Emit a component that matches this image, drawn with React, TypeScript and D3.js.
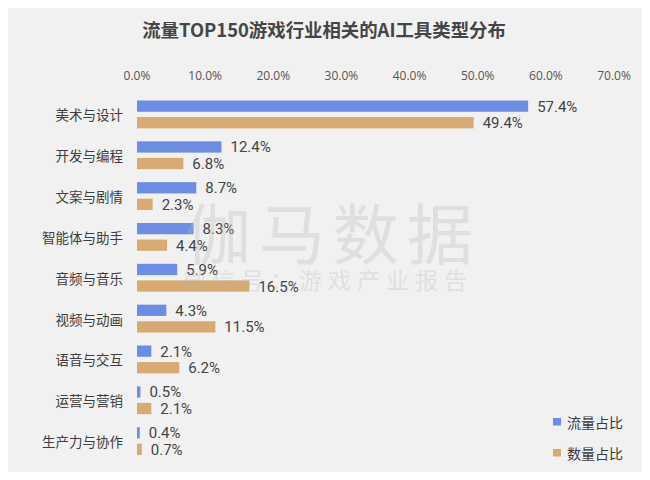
import React, { useRef, useEffect } from "react";
import * as d3 from "d3";

const WIDTH = 650;
const HEIGHT = 480;

const categories = ["美术与设计", "开发与编程", "文案与剧情", "智能体与助手", "音频与音乐", "视频与动画", "语音与交互", "运营与营销", "生产力与协作"];
const trafficShare = [57.4, 12.4, 8.7, 8.3, 5.9, 4.3, 2.1, 0.5, 0.4];
const countShare = [49.4, 6.8, 2.3, 4.4, 16.5, 11.5, 6.2, 2.1, 0.7];
const seriesNames = ["流量占比", "数量占比"];
const seriesColors = ["#6d8de5", "#d6aa72"];
const xTicks = [0, 10, 20, 30, 40, 50, 60, 70];

const CJK = "'Noto Sans CJK SC', 'Noto Sans', sans-serif";
const NUM = "Roboto, 'Noto Sans', sans-serif";

const App: React.FC = () => {
  const svgRef = useRef<SVGSVGElement | null>(null);

  const drawChart = () => {
    if (!svgRef.current) return;
    d3.select(svgRef.current).selectAll("*").remove();

    const svg = d3.select(svgRef.current)
      .attr("width", WIDTH)
      .attr("height", HEIGHT);

    // 背景
    svg.append("rect").attr("width", WIDTH).attr("height", HEIGHT).attr("fill", "#ffffff");
    svg.append("rect")
      .attr("x", 2).attr("y", 2)
      .attr("width", WIDTH - 4).attr("height", HEIGHT - 4)
      .attr("fill", "#f1f1f1");

    // タイトル
    svg.append("text")
      .attr("x", 324).attr("y", 29)
      .attr("text-anchor", "middle")
      .attr("dominant-baseline", "central")
      .attr("font-family", CJK)
      .attr("font-weight", 700)
      .attr("font-size", 18.4)
      .attr("fill", "#454545")
      .text("流量TOP150游戏行业相关的AI工具类型分布");

    const x = d3.scaleLinear().domain([0, 70]).range([137, 614]);
    const y = d3.scaleBand<string>().domain(categories).range([94, 461.5]).padding(0);
    const ySub = d3.scaleBand<string>()
      .domain(seriesNames)
      .range([6.5, y.bandwidth() - 6.5])
      .paddingInner(0.32);

    // 上の軸ラベル
    svg.append("g")
      .selectAll("text")
      .data(xTicks)
      .enter().append("text")
      .attr("x", (d) => x(d))
      .attr("y", 75)
      .attr("text-anchor", "middle")
      .attr("dominant-baseline", "central")
      .attr("font-family", "'Open Sans', 'Noto Sans', sans-serif")
      .attr("font-size", 12)
      .attr("fill", "#555")
      .text((d) => d3.format(".1f")(d) + "%");

    // カテゴリラベル
    svg.append("g")
      .selectAll("text")
      .data(categories)
      .enter().append("text")
      .attr("x", 123)
      .attr("y", (d) => (y(d) as number) + y.bandwidth() / 2)
      .attr("text-anchor", "end")
      .attr("dominant-baseline", "central")
      .attr("font-family", CJK)
      .attr("font-size", 13.5)
      .attr("fill", "#3e3e3e")
      .text((d) => d);

    const seriesValues = [trafficShare, countShare];

    seriesNames.forEach((name, si) => {
      const rows = categories.map((c, i) => ({ c, v: seriesValues[si][i] }));
      const g = svg.append("g");

      g.selectAll("rect")
        .data(rows)
        .enter().append("rect")
        .attr("x", x(0))
        .attr("y", (d) => (y(d.c) as number) + (ySub(name) as number))
        .attr("width", (d) => x(d.v) - x(0))
        .attr("height", ySub.bandwidth())
        .attr("fill", seriesColors[si]);

      g.selectAll("text")
        .data(rows)
        .enter().append("text")
        .attr("x", (d) => x(d.v) + 9)
        .attr("y", (d) => (y(d.c) as number) + (ySub(name) as number) + ySub.bandwidth() / 2 + 0.5)
        .attr("dominant-baseline", "central")
        .attr("font-family", NUM)
        .attr("font-size", 15)
        .attr("fill", "#444")
        .text((d) => d3.format(".1f")(d.v) + "%");
    });

    // 透かし
    const wm = svg.append("g").attr("fill", "#b8b8b8").attr("opacity", 0.3).attr("font-family", CJK);
    wm.append("text")
      .attr("x", 333).attr("y", 230)
      .attr("text-anchor", "middle")
      .attr("dominant-baseline", "central")
      .attr("font-size", 66)
      .attr("letter-spacing", 8)
      .text("伽马数据");
    wm.append("text")
      .attr("x", 328).attr("y", 279)
      .attr("text-anchor", "middle")
      .attr("dominant-baseline", "central")
      .attr("font-size", 23)
      .attr("letter-spacing", 6)
      .text("微信号：游戏产业报告");

    // 凡例
    const legend = svg.append("g")
      .selectAll("g")
      .data(seriesNames)
      .enter().append("g")
      .attr("transform", (d, i) => `translate(553, ${421.5 + i * 31})`);
    legend.append("rect")
      .attr("x", 0).attr("y", -3.5)
      .attr("width", 8).attr("height", 7.5)
      .attr("fill", (d, i) => seriesColors[i]);
    legend.append("text")
      .attr("x", 14).attr("y", 0)
      .attr("dominant-baseline", "central")
      .attr("font-family", CJK)
      .attr("font-size", 14)
      .attr("fill", "#3a3a3a")
      .text((d) => d);
  };

  useEffect(() => {
    drawChart();
  }, []);

  return (
    <div style={{ margin: -8 }}>
      <svg ref={svgRef} style={{ display: "block" }}></svg>
    </div>
  );
};

export default App;
